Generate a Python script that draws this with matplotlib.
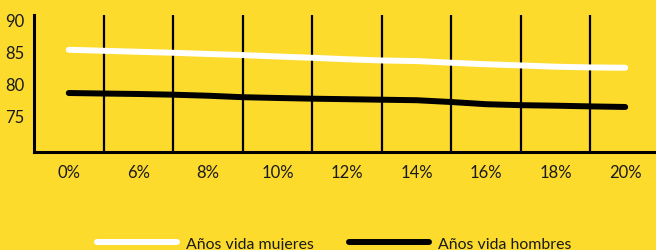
import matplotlib
matplotlib.use("Agg")
import matplotlib.pyplot as plt

# categories: only every other one is labelled in the original chart
labels = ["0%", "", "6%", "", "8%", "", "10%", "", "12%", "", "14%", "", "16%", "", "18%", "", "20%"]
mujeres = [85.29, 85.14, 84.98, 84.83, 84.64, 84.47, 84.25, 84.05, 83.82,
           83.63, 83.54, 83.28, 83.04, 82.86, 82.66, 82.55, 82.50]
hombres = [78.57, 78.49, 78.42, 78.31, 78.15, 77.92, 77.80, 77.69, 77.61,
           77.53, 77.45, 77.17, 76.83, 76.68, 76.60, 76.49, 76.40]
yticks = [75, 80, 85, 90]

bg = "#FDDB2D"
plt.rcParams["font.family"] = ["Lato", "DejaVu Sans"]

fig = plt.figure(figsize=(6.56, 2.51), dpi=100, facecolor=bg)
ax = fig.add_axes([34 / 656, 98 / 251, 626 / 656, 137 / 251])
ax.set_facecolor(bg)

x = list(range(len(labels)))

# vertical grid lines at the unlabelled categories
for i in x:
    if labels[i] == "":
        ax.axvline(i, color="black", lw=1.6, zorder=1)

ax.plot(x, mujeres, color="white", lw=4.3, solid_capstyle="round", label="Años vida mujeres", zorder=3)
ax.plot(x, hombres, color="black", lw=4.3, solid_capstyle="round", label="Años vida hombres", zorder=3)

ax.set_xlim(-1, 17)
ax.set_ylim(69.4, 90.7)
ax.set_xticks(x)
ax.set_xticklabels(labels)
ax.set_yticks(yticks)
ax.tick_params(axis="both", length=0, labelsize=12, labelcolor="#1a1a1a")
ax.tick_params(axis="x", pad=9)
ax.tick_params(axis="y", pad=7)

for s in ["top", "right"]:
    ax.spines[s].set_visible(False)
for s in ["left", "bottom"]:
    ax.spines[s].set_linewidth(2.2)
    ax.spines[s].set_color("black")

fig.legend(loc="center", bbox_to_anchor=(0.509, 0.024), ncol=2, frameon=False,
           fontsize=11.4, handlelength=5.05, handletextpad=0.58, columnspacing=2.2,
           labelcolor="#1a1a1a")

fig.savefig("out.png", dpi=100, facecolor=bg)
